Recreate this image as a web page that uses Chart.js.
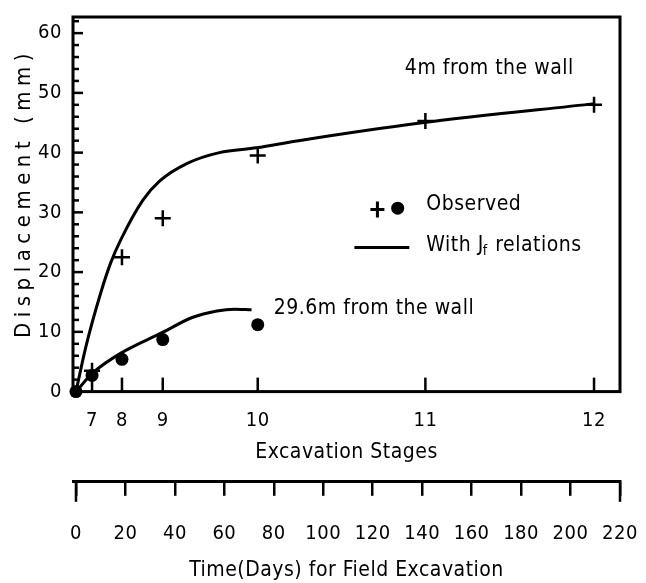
<!DOCTYPE html>
<html>
<head>
<meta charset="utf-8">
<script src="https://cdn.jsdelivr.net/npm/chart.js@4.4.1/dist/chart.umd.min.js"></script>
<style>
  html, body { margin: 0; padding: 0; background: #fff; }
  #chart { display: block; }
</style>
</head>
<body>
<canvas id="chart" width="646" height="583"></canvas>
<script>
// excavation stages and the day each one was reached
const stageLabels = ['7', '8', '9', '10', '11', '12'];
const stageDays = [6.5, 18.6, 35.1, 73.5, 141.3, 209.5];
const dayTicks = [0, 20, 40, 60, 80, 100, 120, 140, 160, 180, 200, 220];
const displacementTicks = [0, 10, 20, 30, 40, 50, 60];

// observed, 4 m from the wall (crosses)
const obs4mDays = [6.5, 18.6, 35.1, 73.5, 141.3, 209.5];
const obs4mValues = [3.5, 22.5, 29, 39.5, 45.3, 48];
// observed, 29.6 m from the wall (dots)
const obs296Days = [0, 6.5, 18.6, 35.1, 73.5];
const obs296Values = [0, 2.7, 5.4, 8.7, 11.2];

// computed with Jf relations
const calc4mDays = [0, 4, 10, 14, 18, 27, 34, 45, 58, 73, 90, 140, 210];
const calc4mValues = [0, 7.5, 16.5, 21.5, 25.3, 32, 35.3, 38.2, 40, 40.8, 42, 45, 48.2];
const calc296Days = [0, 7, 18, 35, 47, 57, 64, 71];
const calc296Values = [0, 3.2, 6.4, 9.9, 12.4, 13.5, 13.8, 13.7];

const FONT = '"DejaVu Sans Condensed", "DejaVu Sans", sans-serif';
const INK = '#000';

function pairs(xs, ys) {
    return xs.map((x, i) => ({ x: x, y: ys[i] }));
}

// keep the plot box where the paper has it
function noSidePadding(s) {
    s.paddingLeft = 0;
    s.paddingRight = 26;
}

// frame, inward ticks, texts and the little legend
const paperPlugin = {
    id: 'paper',
    beforeUpdate(chart) { chart.ctx.letterSpacing = '0.5px'; },
    beforeDraw(chart) { chart.ctx.letterSpacing = '0.5px'; },
    beforeDatasetsDraw(chart) {
        const ctx = chart.ctx;
        const area = chart.chartArea;
        const xs = chart.scales.x;
        const xt = chart.scales.xt;
        const ys = chart.scales.y;
        ctx.save();
        ctx.strokeStyle = INK;
        ctx.fillStyle = INK;

        // box round the plot
        ctx.lineWidth = 3;
        ctx.strokeRect(area.left, area.top, area.right - area.left, area.bottom - area.top);

        // stage ticks pointing up
        ctx.lineWidth = 2.5;
        xs.ticks.forEach(t => {
            const px = xs.getPixelForValue(t.value);
            ctx.beginPath();
            ctx.moveTo(px, area.bottom);
            ctx.lineTo(px, area.bottom - 14);
            ctx.stroke();
        });

        // longer end ticks on the time axis
        [xt.ticks[0], xt.ticks[xt.ticks.length - 1]].forEach(t => {
            const px = xt.getPixelForValue(t.value);
            ctx.beginPath();
            ctx.moveTo(px, xt.top);
            ctx.lineTo(px, xt.top + 20);
            ctx.stroke();
        });

        // displacement ticks pointing right, every 2 mm
        for (let v = 0; v <= ys.max; v += 2) {
            const py = ys.getPixelForValue(v);
            ctx.beginPath();
            ctx.moveTo(area.left, py);
            ctx.lineTo(area.left + (v % 10 === 0 ? 10 : 6), py);
            ctx.stroke();
        }

        // y title
        ctx.save();
        ctx.font = '22px ' + FONT;
        ctx.letterSpacing = '5.5px';
        ctx.textAlign = 'center';
        ctx.textBaseline = 'middle';
        ctx.translate(24, 193);
        ctx.rotate(-Math.PI / 2);
        ctx.fillText('Displacement (mm)', 0, 0);
        ctx.restore();

        // curve labels
        ctx.font = '21px ' + FONT;
        ctx.letterSpacing = '0.5px';
        ctx.textAlign = 'left';
        ctx.textBaseline = 'middle';
        ctx.fillText('4m from the wall', xs.getPixelForValue(133), ys.getPixelForValue(54.1));
        ctx.fillText('29.6m from the wall', xs.getPixelForValue(80), ys.getPixelForValue(13.9));

        // legend
        const cx = xs.getPixelForValue(121.9), cy = ys.getPixelForValue(30.5);
        ctx.lineWidth = 3;
        ctx.beginPath();
        ctx.moveTo(cx - 7, cy); ctx.lineTo(cx + 7, cy);
        ctx.moveTo(cx, cy - 8); ctx.lineTo(cx, cy + 8);
        ctx.stroke();
        ctx.beginPath();
        ctx.arc(xs.getPixelForValue(130.1), ys.getPixelForValue(30.7), 6.5, 0, Math.PI * 2);
        ctx.fill();
        ctx.fillText('Observed', xs.getPixelForValue(141.7), ys.getPixelForValue(31.3));

        const ly = ys.getPixelForValue(24.1);
        ctx.beginPath();
        ctx.moveTo(xs.getPixelForValue(112.6), ly);
        ctx.lineTo(xs.getPixelForValue(134.8), ly);
        ctx.stroke();
        let tx = xs.getPixelForValue(141.7);
        const ty = ys.getPixelForValue(24.5);
        ctx.fillText('With J', tx, ty);
        tx += ctx.measureText('With J').width;
        ctx.font = '14px ' + FONT;
        ctx.fillText('f', tx - 1, ty + 6);
        tx += ctx.measureText('f').width;
        ctx.font = '21px ' + FONT;
        ctx.fillText(' relations', tx, ty);

        ctx.restore();
    }
};

new Chart(document.getElementById('chart'), {
    type: 'line',
    data: {
        datasets: [
            {
                label: '4m from the wall (Jf relations)',
                data: pairs(calc4mDays, calc4mValues),
                borderColor: INK,
                borderWidth: 3,
                pointRadius: 0,
                cubicInterpolationMode: 'monotone',
                clip: false
            },
            {
                label: '29.6m from the wall (Jf relations)',
                data: pairs(calc296Days, calc296Values),
                borderColor: INK,
                borderWidth: 3,
                pointRadius: 0,
                cubicInterpolationMode: 'monotone',
                clip: false
            },
            {
                label: '4m from the wall (observed)',
                data: pairs(obs4mDays, obs4mValues),
                showLine: false,
                pointStyle: 'cross',
                pointRadius: 8,
                borderWidth: 2.5,
                borderColor: INK,
                clip: false
            },
            {
                label: '29.6m from the wall (observed)',
                data: pairs(obs296Days, obs296Values),
                showLine: false,
                pointStyle: 'circle',
                pointRadius: 6.5,
                borderWidth: 0,
                backgroundColor: INK,
                borderColor: INK,
                clip: false
            }
        ]
    },
    options: {
        responsive: false,
        animation: false,
        events: [],
        layout: { padding: { left: 0, right: 0, top: 17, bottom: 0 } },
        plugins: {
            legend: { display: false },
            tooltip: { enabled: false }
        },
        scales: {
            x: {
                type: 'linear',
                position: 'bottom',
                weight: 0,
                min: -1.2,
                max: 220,
                afterBuildTicks: s => { s.ticks = stageDays.map(v => ({ value: v })); },
                afterFit: noSidePadding,
                grid: { display: false, drawTicks: false },
                border: { display: false },
                ticks: {
                    autoSkip: false,
                    maxRotation: 0,
                    padding: 17,
                    color: INK,
                    font: { family: FONT, size: 20 },
                    callback: (v, i) => stageLabels[i]
                },
                title: {
                    display: true,
                    text: 'Excavation Stages',
                    color: INK,
                    font: { family: FONT, size: 21 },
                    padding: { top: -10, bottom: 17 }
                }
            },
            xt: {
                type: 'linear',
                position: 'bottom',
                weight: 1,
                min: -1.2,
                max: 220,
                afterBuildTicks: s => { s.ticks = dayTicks.map(v => ({ value: v })); },
                afterFit: noSidePadding,
                grid: { drawOnChartArea: false, drawTicks: true, tickLength: 14, color: INK, lineWidth: 2.5 },
                border: { display: true, width: 3, color: INK },
                ticks: {
                    autoSkip: false,
                    maxRotation: 0,
                    padding: 26,
                    color: INK,
                    font: { family: FONT, size: 20 }
                },
                title: {
                    display: true,
                    text: 'Time(Days) for Field Excavation',
                    color: INK,
                    font: { family: FONT, size: 21 },
                    padding: { top: -14, bottom: 0 }
                }
            },
            y: {
                type: 'linear',
                min: 0,
                max: 62.7,
                afterBuildTicks: s => { s.ticks = displacementTicks.map(v => ({ value: v })); },
                afterFit: s => { s.width = 73; s.paddingTop = 0; s.paddingBottom = 0; },
                grid: { display: false, drawTicks: false },
                border: { display: false },
                ticks: {
                    padding: 11,
                    color: INK,
                    font: { family: FONT, size: 20 }
                }
            }
        }
    },
    plugins: [paperPlugin]
});
</script>
</body>
</html>
